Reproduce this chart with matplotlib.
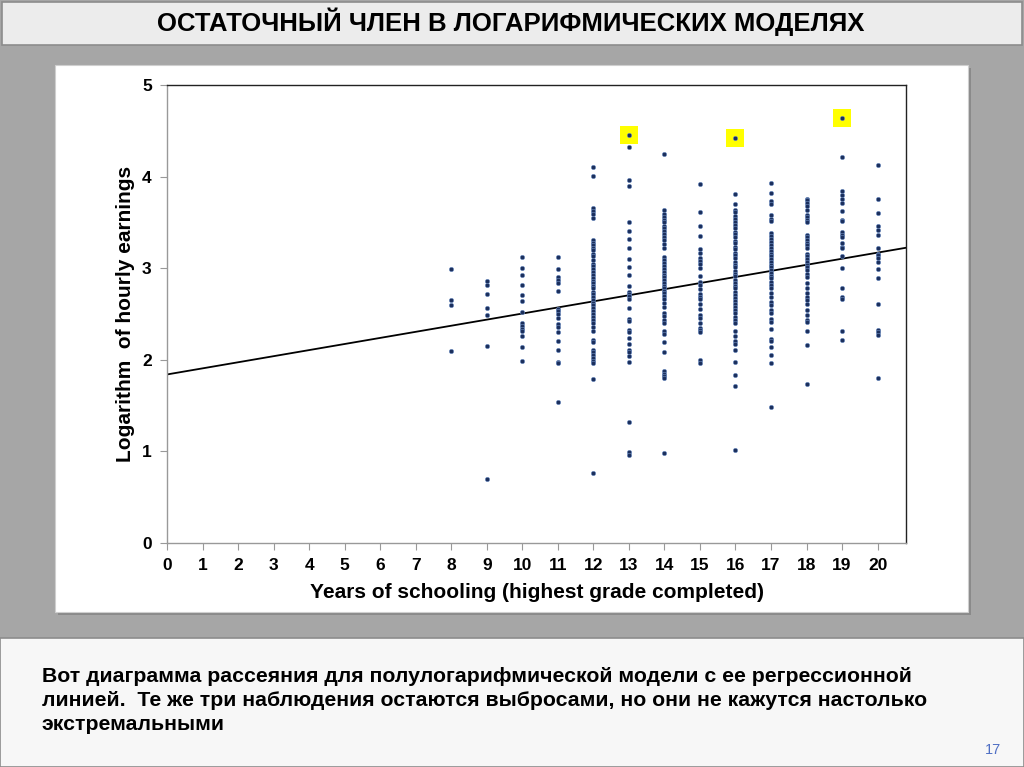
import matplotlib
matplotlib.use("Agg")
import matplotlib.pyplot as plt
from matplotlib.patches import Rectangle

plt.rcParams['font.family'] = ['Liberation Sans', 'DejaVu Sans']

# years of schooling -> log hourly earnings, read column by column
lgearn = {
    8: [2.99, 2.65, 2.60, 2.10],
    9: [2.86, 2.82, 2.72, 2.57, 2.49, 2.15, 0.70],
    10: [3.12, 3.00, 2.93, 2.82, 2.71, 2.64, 2.52, 2.40, 2.37, 2.34, 2.31,
         2.26, 2.14, 1.99],
    11: [3.12, 2.99, 2.90, 2.87, 2.84, 2.75, 2.56, 2.53, 2.50, 2.46, 2.39,
         2.36, 2.30, 2.21, 2.11, 1.98, 1.97, 1.54],
    12: [4.10, 4.01, 3.66, 3.62, 3.59, 3.55, 3.31, 3.28, 3.25, 3.22, 3.20,
         3.16, 3.13, 3.09, 3.05, 3.02, 2.99, 2.96, 2.93, 2.89, 2.86, 2.84,
         2.81, 2.78, 2.74, 2.72, 2.69, 2.65, 2.62, 2.60, 2.57, 2.53, 2.50,
         2.47, 2.43, 2.40, 2.36, 2.31, 2.22, 2.19, 2.11, 2.09, 2.05, 2.02,
         1.99, 1.96, 1.79, 0.76],
    13: [4.45, 4.32, 3.96, 3.90, 3.50, 3.41, 3.32, 3.22, 3.10, 3.01, 2.93,
         2.81, 2.74, 2.72, 2.70, 2.66, 2.57, 2.44, 2.42, 2.33, 2.30, 2.24,
         2.17, 2.11, 2.08, 2.04, 1.98, 1.32, 0.99, 0.96],
    14: [4.25, 3.63, 3.59, 3.56, 3.53, 3.50, 3.46, 3.44, 3.41, 3.37, 3.34,
         3.31, 3.26, 3.22, 3.12, 3.09, 3.06, 3.02, 2.99, 2.96, 2.93, 2.90,
         2.87, 2.84, 2.81, 2.78, 2.75, 2.73, 2.70, 2.66, 2.62, 2.58, 2.51,
         2.48, 2.43, 2.40, 2.31, 2.28, 2.19, 2.09, 1.88, 1.85, 1.82, 1.80,
         0.98],
    15: [3.92, 3.61, 3.46, 3.35, 3.21, 3.17, 3.11, 3.08, 3.05, 3.00, 2.91,
         2.85, 2.82, 2.77, 2.72, 2.69, 2.66, 2.61, 2.55, 2.49, 2.46, 2.40,
         2.35, 2.33, 2.30, 2.00, 1.97],
    16: [4.42, 3.81, 3.70, 3.64, 3.61, 3.57, 3.54, 3.50, 3.47, 3.44, 3.40,
         3.37, 3.34, 3.30, 3.27, 3.23, 3.21, 3.17, 3.14, 3.11, 3.07, 3.04,
         3.01, 2.97, 2.94, 2.91, 2.87, 2.84, 2.81, 2.78, 2.74, 2.71, 2.68,
         2.64, 2.61, 2.58, 2.54, 2.51, 2.47, 2.43, 2.40, 2.31, 2.26, 2.21,
         2.17, 2.11, 1.98, 1.83, 1.71, 1.02],
    17: [3.93, 3.82, 3.73, 3.70, 3.58, 3.54, 3.51, 3.38, 3.35, 3.32, 3.29,
         3.25, 3.22, 3.19, 3.16, 3.13, 3.10, 3.07, 3.04, 3.01, 2.98, 2.95,
         2.92, 2.89, 2.85, 2.82, 2.78, 2.73, 2.69, 2.63, 2.60, 2.54, 2.51,
         2.45, 2.41, 2.34, 2.23, 2.21, 2.14, 2.05, 1.96, 1.49],
    18: [3.76, 3.74, 3.71, 3.68, 3.63, 3.58, 3.56, 3.53, 3.50, 3.36, 3.34,
         3.31, 3.28, 3.25, 3.22, 3.16, 3.13, 3.10, 3.07, 3.03, 3.01, 2.98,
         2.94, 2.90, 2.84, 2.78, 2.73, 2.69, 2.65, 2.61, 2.54, 2.49, 2.43,
         2.41, 2.31, 2.16, 1.74],
    19: [4.64, 4.21, 3.84, 3.80, 3.76, 3.71, 3.62, 3.53, 3.51, 3.39, 3.36,
         3.34, 3.27, 3.23, 3.22, 3.13, 3.00, 2.78, 2.69, 2.66, 2.31, 2.22],
    20: [4.13, 3.76, 3.60, 3.46, 3.42, 3.36, 3.22, 3.16, 3.14, 3.11, 3.07,
         2.99, 2.89, 2.61, 2.33, 2.30, 2.27, 1.80],
}

# the three outliers marked in yellow
outlier_s = [13, 16, 19]
outlier_y = [4.45, 4.42, 4.64]

# fitted line LGEARN = a + b*S
reg_intercept = 1.84
reg_slope = 0.0665

x_ticks = list(range(0, 21))
y_ticks = [0, 1, 2, 3, 4, 5]

title_text = "ОСТАТОЧНЫЙ ЧЛЕН В ЛОГАРИФМИЧЕСКИХ МОДЕЛЯХ"
body_lines = [
    "Вот диаграмма рассеяния для полулогарифмической модели с ее регрессионной",
    "линией.  Те же три наблюдения остаются выбросами, но они не кажутся настолько",
    "экстремальными",
]

W, H = 1024, 767
fig = plt.figure(figsize=(W / 100, H / 100), dpi=100)
fig.patch.set_facecolor('#a6a6a6')

# slide background drawn in pixel coordinates
bg = fig.add_axes([0, 0, 1, 1])
bg.set_xlim(0, W)
bg.set_ylim(H, 0)
bg.axis('off')
bg.add_patch(Rectangle((2, 2), W - 4, 43, facecolor='#ececec', edgecolor='#8c8c8c', lw=1.2))
bg.add_patch(Rectangle((0, 638), W, H - 638, facecolor='#f7f7f7', edgecolor='#8c8c8c', lw=1.2))
bg.add_patch(Rectangle((58, 68), 913, 547, facecolor='#8a8a8a', edgecolor='none'))
bg.add_patch(Rectangle((55, 65), 913, 547, facecolor='white', edgecolor='#cfcfcf', lw=0.8))

fig.text(511 / W, 1 - 22 / H, title_text, ha='center', va='center',
         fontsize=18.5, fontweight='bold', color='black')
for i, line in enumerate(body_lines):
    fig.text(42 / W, 1 - (676 + i * 24.5) / H, line, ha='left', va='center',
             fontsize=15.3, fontweight='bold', color='black')
fig.text(993 / W, 1 - 750 / H, "17", ha='center', va='center',
         fontsize=10.5, color='#4f6fc4')

# chart
ax = fig.add_axes([167 / W, 1 - 543 / H, (906 - 167) / W, (543 - 85) / H])
ax.set_facecolor('white')

xs, ys = [], []
for s, vals in lgearn.items():
    xs += [s] * len(vals)
    ys += vals

ax.scatter(outlier_s, outlier_y, marker='s', s=170, color='#ffff00', zorder=1, linewidths=0)
xline = [0, 20.8]
ax.plot(xline, [reg_intercept + reg_slope * v for v in xline], color='black', lw=1.3, zorder=2)
ax.scatter(xs, ys, s=10, color='#1b2f5c', edgecolors='#6f8fc4', linewidths=0.4, zorder=3)

ax.set_xlim(0, 20.8)
ax.set_ylim(0, 5)
ax.set_xticks(x_ticks)
ax.set_yticks(y_ticks)
ax.tick_params(axis='both', direction='out', length=5, width=0.8, color='#999999',
               labelsize=12.5, pad=6)
for lab in ax.get_xticklabels() + ax.get_yticklabels():
    lab.set_fontweight('bold')
ax.spines['left'].set_color('#999999')
ax.spines['bottom'].set_color('#999999')
ax.spines['top'].set_color('#222222')
ax.spines['right'].set_color('#222222')
for sp in ax.spines.values():
    sp.set_linewidth(1.0)

ax.set_xlabel("Years of schooling (highest grade completed)", fontsize=15,
              fontweight='bold', labelpad=7)
ax.set_ylabel("Logarithm  of hourly earnings", fontsize=15, fontweight='bold',
              labelpad=5)

fig.savefig("out.png", dpi=100, facecolor=fig.get_facecolor())
